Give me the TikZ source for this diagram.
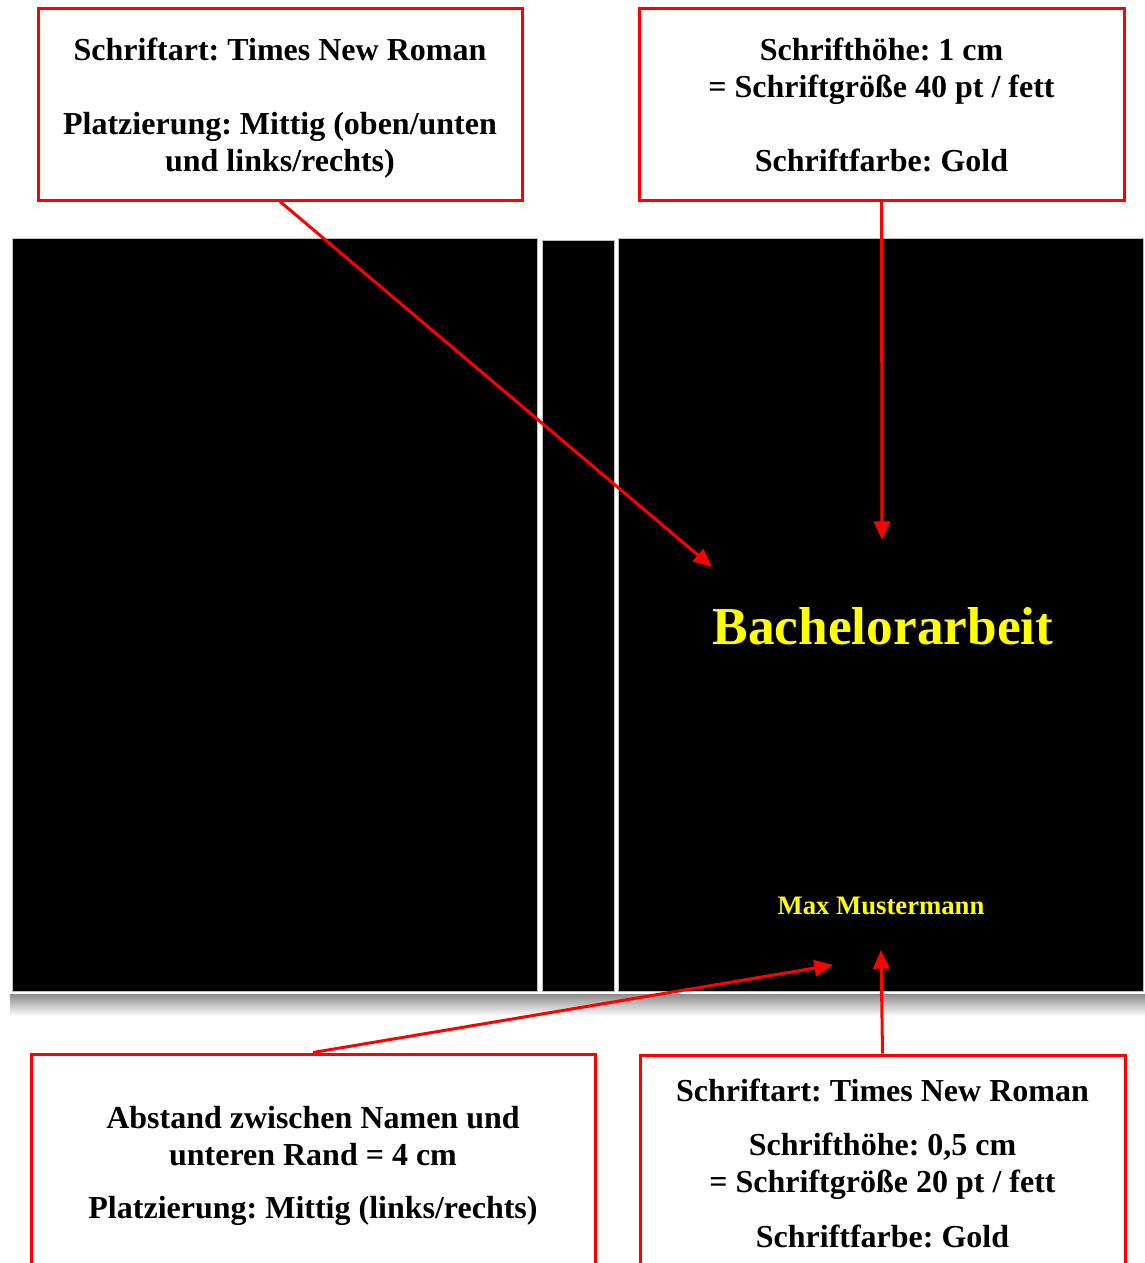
\documentclass[tikz,border=0pt]{standalone}
\usepackage{fontspec}
\setmainfont{Liberation Serif}
\usepackage{tikz}
\usetikzlibrary{arrows.meta}
\frenchspacing
\definecolor{signalred}{RGB}{255,0,0}
\definecolor{gold}{RGB}{255,255,0}
\tikzset{
  notebox/.style={draw=signalred, line width=2.25pt, fill=white, align=center,
    font=\fontsize{24}{27.75}\selectfont\bfseries, inner sep=0pt, text depth=0pt},
  pointer/.style={draw=signalred, line width=2.25pt,
    -{Triangle[length=14pt,width=12pt]}},
  panel/.style={fill=black, draw=black!25, line width=0.75pt}
}
\begin{document}
\begin{tikzpicture}[x=0.75pt,y=0.75pt,yscale=-1,xscale=1]
\useasboundingbox (0,0) rectangle (1145,1263);
\clip (0,0) rectangle (1145,1263);
% cover: back, spine, front
\draw [top color=black!45, bottom color=white, draw=none] (10,994) rectangle (1145,1016);
\draw [panel] (12,238) rectangle (537,991);
\draw [panel] (542,240) rectangle (614,991);
\draw [panel] (618,238) rectangle (1143,991);
\draw (883,626) node [inner sep=0pt, text=gold, font=\fontsize{40}{46}\selectfont\bfseries] (title) {Bachelorarbeit};
\draw (881,906) node [inner sep=0pt, text=gold, font=\fontsize{20}{23}\selectfont\bfseries] (author) {Max Mustermann};
% annotation boxes
\draw (280,104.5) node [notebox, minimum width=363pt, minimum height=143.25pt] (fontbox) {Schriftart: Times New Roman\\[27.75pt]Platzierung: Mittig (oben/unten\\und links/rechts)};
\draw (881.5,104.5) node [notebox, minimum width=363.75pt, minimum height=143.25pt] (heightbox) {Schrifthöhe: 1 cm\\= Schriftgröße 40 pt / fett\\[27.75pt]Schriftfarbe: Gold};
\draw (313,1162.5) node [notebox, minimum width=423pt, minimum height=162.75pt] (gapbox) {Abstand zwischen Namen und\\unteren Rand = 4 cm\\[12.5pt]Platzierung: Mittig (links/rechts)};
\draw (882.5,1163.5) node [notebox, minimum width=363.75pt, minimum height=162.75pt] (namebox) {Schriftart: Times New Roman\\[12.5pt]Schrifthöhe: 0,5 cm\\= Schriftgröße 20 pt / fett\\[14pt]Schriftfarbe: Gold};
% arrow tips
\coordinate (titletip) at (712,567);
\coordinate (titletop) at (882,540);
\coordinate (nametip) at (833,965);
\coordinate (namebottom) at (881,950);
\draw [pointer] (fontbox.south) -- (titletip);
\draw [pointer] (heightbox.south) -- (titletop);
\draw [pointer] (gapbox.north) -- (nametip);
\draw [pointer] (namebox.north) -- (namebottom);
\end{tikzpicture}
\end{document}
